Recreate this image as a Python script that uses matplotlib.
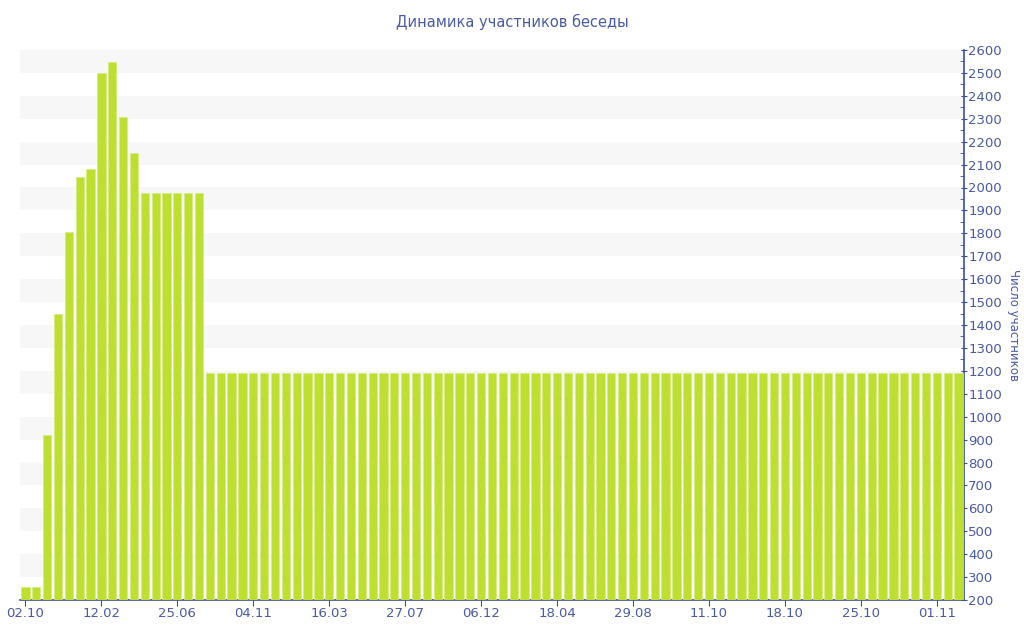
import numpy as np
import matplotlib
matplotlib.use('Agg')
import matplotlib.pyplot as plt
from matplotlib.ticker import MultipleLocator

# данные: число участников по датам
head_vals = [258, 258, 920, 1448, 1806, 2047, 2080, 2498, 2546, 2309, 2149,
             1975, 1975, 1975, 1975, 1975, 1975]
tail_vals = [1190] * 70
values = head_vals + tail_vals

tick_labels = ['02.10', '12.02', '25.06', '04.11', '16.03', '27.07', '06.12',
               '18.04', '29.08', '11.10', '18.10', '25.10', '01.11']
tick_step = 7

title = 'Динамика участников беседы'
ylabel = 'Число участников'

bar_color = '#bde030'
text_color = '#4a5aa3'
axis_color = '#3c4e9e'

fig = plt.figure(figsize=(10.24, 6.4), dpi=100)
ax = fig.add_axes([20 / 1024, 40 / 640, 944 / 1024, 550 / 640])

x = np.arange(len(values))
ax.bar(x, np.array(values) - 200, bottom=200, width=0.76, color=bar_color,
       edgecolor='#d4ec74', linewidth=0.4, zorder=3)

# полосы фона
for lo in range(300, 2600, 200):
    ax.axhspan(lo, lo + 100, color='#f7f7f7', zorder=0, lw=0)

ax.set_xlim(-0.5, len(values) - 0.5)
ax.set_ylim(200, 2600)

ax.set_xticks(x[::tick_step][:len(tick_labels)])
ax.set_xticklabels(tick_labels)

ax.yaxis.tick_right()
ax.yaxis.set_label_position('right')
ax.yaxis.set_major_locator(MultipleLocator(100))
ax.yaxis.set_minor_locator(MultipleLocator(50))

for s in ['top', 'left']:
    ax.spines[s].set_visible(False)
ax.spines['bottom'].set_color(axis_color)
ax.spines['right'].set_color(axis_color)
ax.spines['bottom'].set_linewidth(1.2)
ax.spines['right'].set_linewidth(1.2)

ax.tick_params(axis='x', colors=axis_color, labelcolor=text_color, labelsize=9.5,
               length=4, pad=1)
ax.tick_params(axis='y', which='major', colors=axis_color, labelcolor=text_color,
               labelsize=9.5, length=4, pad=1, direction='inout')
ax.tick_params(axis='y', which='minor', colors=axis_color, length=3, direction='in')

ax.set_ylabel(ylabel, color=text_color, fontsize=8.5, rotation=270, labelpad=13)
fig.suptitle(title, color=text_color, fontsize=10.5, x=0.5, y=1 - 22 / 640, va='center')

fig.savefig('out.png', dpi=100)
